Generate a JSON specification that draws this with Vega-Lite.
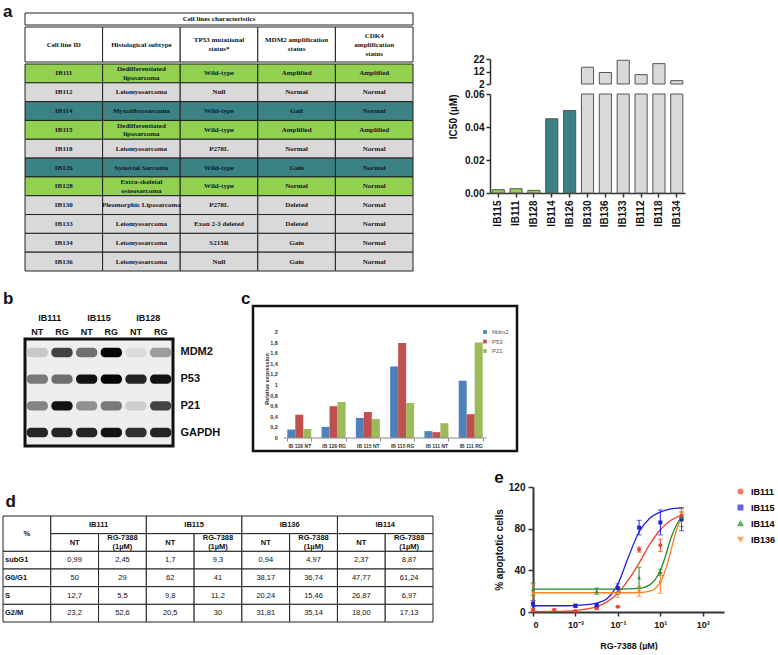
{
"$schema": "https://vega.github.io/schema/vega-lite/v6.json",
"background": "white",
"padding": {"left": 2, "top": 2, "right": 0, "bottom": 0},
"config": {
 "view": {"stroke": null},
 "font": "Liberation Sans",
 "axis": {"grid": false, "labelOverlap": false, "domainColor": "#333", "tickColor": "#333", "labelColor": "#111", "titleColor": "#111", "labelFont": "Liberation Sans", "titleFont": "Liberation Sans"},
 "title": {"anchor": "start", "fontSize": 17, "fontWeight": "bold", "font": "Liberation Sans", "color": "#111", "frame": "bounds"},
 "legend": {"labelFont": "Liberation Sans"}
},
"datasets": {
 "cells": [
  {"id":"IB111","hist":"Dedifferentiated\nliposarcoma","tp53":"Wild-type","mdm2":"Amplified","cdk4":"Amplified","grp":"sensitive"},
  {"id":"IB112","hist":"Leiomyosarcoma","tp53":"Null","mdm2":"Normal","cdk4":"Normal","grp":"resistant"},
  {"id":"IB114","hist":"Myxofibrosarcoma","tp53":"Wild-type","mdm2":"Gail","cdk4":"Normal","grp":"intermediate"},
  {"id":"IB115","hist":"Dedifferentiated\nliposarcoma","tp53":"Wild-type","mdm2":"Amplified","cdk4":"Amplified","grp":"sensitive"},
  {"id":"IB118","hist":"Leiomyosarcoma","tp53":"P278L","mdm2":"Normal","cdk4":"Normal","grp":"resistant"},
  {"id":"IB126","hist":"Synovial Sarcoma","tp53":"Wild-type","mdm2":"Gain","cdk4":"Normal","grp":"intermediate"},
  {"id":"IB128","hist":"Extra-skeletal\nosteosarcoma","tp53":"Wild-type","mdm2":"Normal","cdk4":"Normal","grp":"sensitive"},
  {"id":"IB130","hist":"Pleomorphic Liposarcoma","tp53":"P278L","mdm2":"Deleted","cdk4":"Normal","grp":"resistant"},
  {"id":"IB133","hist":"Leiomyosarcoma","tp53":"Exon 2-3 deleted","mdm2":"Deleted","cdk4":"Normal","grp":"resistant"},
  {"id":"IB134","hist":"Leiomyosarcoma","tp53":"S215R","mdm2":"Gain","cdk4":"Normal","grp":"resistant"},
  {"id":"IB136","hist":"Leiomyosarcoma","tp53":"Null","mdm2":"Gain","cdk4":"Normal","grp":"resistant"}
 ],
 "cellhead": [
  {"col":"id","label":"Cell line ID"},
  {"col":"hist","label":"Histological subtype"},
  {"col":"tp53","label":"TP53 mutational\nstatus*"},
  {"col":"mdm2","label":"MDM2 amplification\nstatus"},
  {"col":"cdk4","label":"CDK4\namplification\nstatus"}
 ],
 "ic50": [
  {"line":"IB115","ic50":0.002,"grp":"sensitive"},
  {"line":"IB111","ic50":0.0026,"grp":"sensitive"},
  {"line":"IB128","ic50":0.0016,"grp":"sensitive"},
  {"line":"IB114","ic50":0.045,"grp":"intermediate"},
  {"line":"IB126","ic50":0.05,"grp":"intermediate"},
  {"line":"IB130","ic50":15.4,"grp":"resistant"},
  {"line":"IB136","ic50":11.2,"grp":"resistant"},
  {"line":"IB133","ic50":21.0,"grp":"resistant"},
  {"line":"IB112","ic50":9.5,"grp":"resistant"},
  {"line":"IB118","ic50":18.3,"grp":"resistant"},
  {"line":"IB134","ic50":4.7,"grp":"resistant"}
 ],
 "blot": [
  {"cell":"IB111","lane":"IB111 NT","protein":"MDM2","signal":0.12},
  {"cell":"IB111","lane":"IB111 RG","protein":"MDM2","signal":0.7},
  {"cell":"IB115","lane":"IB115 NT","protein":"MDM2","signal":0.5},
  {"cell":"IB115","lane":"IB115 RG","protein":"MDM2","signal":1.0},
  {"cell":"IB128","lane":"IB128 NT","protein":"MDM2","signal":0.04},
  {"cell":"IB128","lane":"IB128 RG","protein":"MDM2","signal":0.3},
  {"cell":"IB111","lane":"IB111 NT","protein":"P53","signal":0.45},
  {"cell":"IB111","lane":"IB111 RG","protein":"P53","signal":0.5},
  {"cell":"IB115","lane":"IB115 NT","protein":"P53","signal":0.95},
  {"cell":"IB115","lane":"IB115 RG","protein":"P53","signal":1.0},
  {"cell":"IB128","lane":"IB128 NT","protein":"P53","signal":0.85},
  {"cell":"IB128","lane":"IB128 RG","protein":"P53","signal":0.95},
  {"cell":"IB111","lane":"IB111 NT","protein":"P21","signal":0.4},
  {"cell":"IB111","lane":"IB111 RG","protein":"P21","signal":0.95},
  {"cell":"IB115","lane":"IB115 NT","protein":"P21","signal":0.35},
  {"cell":"IB115","lane":"IB115 RG","protein":"P21","signal":0.45},
  {"cell":"IB128","lane":"IB128 NT","protein":"P21","signal":0.1},
  {"cell":"IB128","lane":"IB128 RG","protein":"P21","signal":0.7},
  {"cell":"IB111","lane":"IB111 NT","protein":"GAPDH","signal":0.85},
  {"cell":"IB111","lane":"IB111 RG","protein":"GAPDH","signal":0.85},
  {"cell":"IB115","lane":"IB115 NT","protein":"GAPDH","signal":0.85},
  {"cell":"IB115","lane":"IB115 RG","protein":"GAPDH","signal":0.95},
  {"cell":"IB128","lane":"IB128 NT","protein":"GAPDH","signal":0.8},
  {"cell":"IB128","lane":"IB128 RG","protein":"GAPDH","signal":0.85}
 ],
 "qpcr": [
  {"sample":"IB 128 NT","gene":"Mdm2","value":0.16},{"sample":"IB 128 NT","gene":"P53","value":0.44},{"sample":"IB 128 NT","gene":"P21","value":0.17},
  {"sample":"IB 128 RG","gene":"Mdm2","value":0.21},{"sample":"IB 128 RG","gene":"P53","value":0.6},{"sample":"IB 128 RG","gene":"P21","value":0.68},
  {"sample":"IB 115 NT","gene":"Mdm2","value":0.38},{"sample":"IB 115 NT","gene":"P53","value":0.49},{"sample":"IB 115 NT","gene":"P21","value":0.36},
  {"sample":"IB 115 RG","gene":"Mdm2","value":1.35},{"sample":"IB 115 RG","gene":"P53","value":1.79},{"sample":"IB 115 RG","gene":"P21","value":0.66},
  {"sample":"IB 111 NT","gene":"Mdm2","value":0.13},{"sample":"IB 111 NT","gene":"P53","value":0.11},{"sample":"IB 111 NT","gene":"P21","value":0.28},
  {"sample":"IB 111 RG","gene":"Mdm2","value":1.08},{"sample":"IB 111 RG","gene":"P53","value":0.45},{"sample":"IB 111 RG","gene":"P21","value":1.8}
 ],
 "qticks": [
  {"tick":0,"lab":"0"},{"tick":0.2,"lab":"0,2"},{"tick":0.4,"lab":"0,4"},{"tick":0.6,"lab":"0,6"},{"tick":0.8,"lab":"0,8"},{"tick":1,"lab":"1"},
  {"tick":1.2,"lab":"1,2"},{"tick":1.4,"lab":"1,4"},{"tick":1.6,"lab":"1,6"},{"tick":1.8,"lab":"1,8"},{"tick":2,"lab":"2"}
 ],
 "cyclehead": [
  {"c1":"phase","c2":"phase","r1":"h1","r2":"h2","label":"%","kind":"corner"},
  {"c1":"IB111 NT","c2":"IB111 RG","r1":"h1","r2":"h1","label":"IB111","kind":"group"},
  {"c1":"IB115 NT","c2":"IB115 RG","r1":"h1","r2":"h1","label":"IB115","kind":"group"},
  {"c1":"IB136 NT","c2":"IB136 RG","r1":"h1","r2":"h1","label":"IB136","kind":"group"},
  {"c1":"IB114 NT","c2":"IB114 RG","r1":"h1","r2":"h1","label":"IB114","kind":"group"},
  {"c1":"IB111 NT","c2":"IB111 NT","r1":"h2","r2":"h2","label":"NT","kind":"sub"},
  {"c1":"IB111 RG","c2":"IB111 RG","r1":"h2","r2":"h2","label":"RG-7388\n(1µM)","kind":"sub"},
  {"c1":"IB115 NT","c2":"IB115 NT","r1":"h2","r2":"h2","label":"NT","kind":"sub"},
  {"c1":"IB115 RG","c2":"IB115 RG","r1":"h2","r2":"h2","label":"RG-7388\n(1µM)","kind":"sub"},
  {"c1":"IB136 NT","c2":"IB136 NT","r1":"h2","r2":"h2","label":"NT","kind":"sub"},
  {"c1":"IB136 RG","c2":"IB136 RG","r1":"h2","r2":"h2","label":"RG-7388\n(1µM)","kind":"sub"},
  {"c1":"IB114 NT","c2":"IB114 NT","r1":"h2","r2":"h2","label":"NT","kind":"sub"},
  {"c1":"IB114 RG","c2":"IB114 RG","r1":"h2","r2":"h2","label":"RG-7388\n(1µM)","kind":"sub"}
 ],
 "cycle": [
  {"phase":"subG1","IB111 NT":"0,99","IB111 RG":"2,45","IB115 NT":"1,7","IB115 RG":"9,3","IB136 NT":"0,94","IB136 RG":"4,97","IB114 NT":"2,37","IB114 RG":"8,87"},
  {"phase":"G0/G1","IB111 NT":"50","IB111 RG":"29","IB115 NT":"62","IB115 RG":"41","IB136 NT":"38,17","IB136 RG":"36,74","IB114 NT":"47,77","IB114 RG":"61,24"},
  {"phase":"S","IB111 NT":"12,7","IB111 RG":"5,5","IB115 NT":"9,8","IB115 RG":"11,2","IB136 NT":"20,24","IB136 RG":"15,46","IB114 NT":"26,87","IB114 RG":"6,97"},
  {"phase":"G2/M","IB111 NT":"23,2","IB111 RG":"52,6","IB115 NT":"20,5","IB115 RG":"30","IB136 NT":"31,81","IB136 RG":"35,14","IB114 NT":"18,00","IB114 RG":"17,13"}
 ],
 "curves": [
  {"series":"IB115","logdose":-5,"pct":6},{"series":"IB115","logdose":-4,"pct":6},{"series":"IB115","logdose":-3,"pct":6.2},{"series":"IB115","logdose":-2.5,"pct":7},{"series":"IB115","logdose":-2,"pct":8.5},{"series":"IB115","logdose":-1.5,"pct":13},{"series":"IB115","logdose":-1,"pct":27},{"series":"IB115","logdose":-0.5,"pct":53},{"series":"IB115","logdose":0,"pct":77},{"series":"IB115","logdose":0.5,"pct":90},{"series":"IB115","logdose":1,"pct":96},{"series":"IB115","logdose":1.5,"pct":99},{"series":"IB115","logdose":2,"pct":100},
  {"series":"IB111","logdose":-5,"pct":0.3},{"series":"IB111","logdose":-4,"pct":0.5},{"series":"IB111","logdose":-3,"pct":1.4},{"series":"IB111","logdose":-2.5,"pct":2.8},{"series":"IB111","logdose":-2,"pct":5.2},{"series":"IB111","logdose":-1.5,"pct":10},{"series":"IB111","logdose":-1,"pct":18},{"series":"IB111","logdose":-0.5,"pct":31},{"series":"IB111","logdose":0,"pct":47},{"series":"IB111","logdose":0.5,"pct":65},{"series":"IB111","logdose":1,"pct":79},{"series":"IB111","logdose":1.5,"pct":88},{"series":"IB111","logdose":2,"pct":93},
  {"series":"IB114","logdose":-5,"pct":22},{"series":"IB114","logdose":-3,"pct":22},{"series":"IB114","logdose":-1,"pct":22},{"series":"IB114","logdose":0,"pct":22.7},{"series":"IB114","logdose":0.5,"pct":26},{"series":"IB114","logdose":1,"pct":40},{"series":"IB114","logdose":1.25,"pct":54},{"series":"IB114","logdose":1.5,"pct":71},{"series":"IB114","logdose":1.75,"pct":83},{"series":"IB114","logdose":2,"pct":91},
  {"series":"IB136","logdose":-5,"pct":18.5},{"series":"IB136","logdose":-3,"pct":18.5},{"series":"IB136","logdose":-1,"pct":18.5},{"series":"IB136","logdose":0,"pct":18.7},{"series":"IB136","logdose":0.5,"pct":20},{"series":"IB136","logdose":1,"pct":28.5},{"series":"IB136","logdose":1.25,"pct":41},{"series":"IB136","logdose":1.5,"pct":59},{"series":"IB136","logdose":1.75,"pct":78},{"series":"IB136","logdose":2,"pct":90}
 ],
 "apop": [
  {"series":"IB111","logdose":-5,"pct":2,"err":1},{"series":"IB111","logdose":-4,"pct":2,"err":1},{"series":"IB111","logdose":-3,"pct":1,"err":0.5},{"series":"IB111","logdose":-2,"pct":3.5,"err":1},{"series":"IB111","logdose":-1,"pct":5,"err":0.5},{"series":"IB111","logdose":0,"pct":60,"err":2.5},{"series":"IB111","logdose":1,"pct":64,"err":6},{"series":"IB111","logdose":2,"pct":93,"err":3},
  {"series":"IB115","logdose":-5,"pct":8,"err":3},{"series":"IB115","logdose":-3,"pct":6,"err":1.5},{"series":"IB115","logdose":-2,"pct":6.5,"err":1.5},{"series":"IB115","logdose":-1,"pct":23,"err":4},{"series":"IB115","logdose":0,"pct":81,"err":7},{"series":"IB115","logdose":1,"pct":86,"err":12},{"series":"IB115","logdose":2,"pct":89,"err":11},
  {"series":"IB114","logdose":-5,"pct":22,"err":6},{"series":"IB114","logdose":-2,"pct":20,"err":3},{"series":"IB114","logdose":-1,"pct":20,"err":3},{"series":"IB114","logdose":0,"pct":33,"err":10},{"series":"IB114","logdose":1,"pct":38,"err":3},{"series":"IB114","logdose":2,"pct":91,"err":9},
  {"series":"IB136","logdose":-5,"pct":18,"err":9},{"series":"IB136","logdose":-1,"pct":18,"err":4},{"series":"IB136","logdose":0,"pct":20,"err":5},{"series":"IB136","logdose":1,"pct":28,"err":10},{"series":"IB136","logdose":2,"pct":95,"err":4}
 ]
},
"columns": 1,
"spacing": 16,
"resolve": {"legend": {"color": "independent", "shape": "independent", "fill": "independent"}},
"concat": [
 {
  "spacing": 34,
  "hconcat": [
   {
    "title": {"text": "a", "offset": -8},
    "spacing": 20,
    "hconcat": [
     {"width": 1, "height": 1, "data": {"values": []}, "mark": "rect"},
     {
      "spacing": 0,
      "vconcat": [
       {
        "width": 388, "height": 12,
        "data": {"values": [{"caption": "Cell lines characteristics"}]},
        "layer": [
         {"mark": {"type": "rect", "fill": "white", "stroke": "#222", "strokeWidth": 1}, "encoding": {}},
         {"mark": {"type": "text", "font": "Liberation Serif", "fontWeight": "bold", "fontSize": 7, "color": "#111"}, "encoding": {"text": {"field": "caption"}}}
        ]
       },
       {
        "width": 388, "height": 35,
        "data": {"name": "cellhead"},
        "encoding": {"x": {"field": "col", "type": "nominal", "sort": null, "scale": {"domain": ["id","hist","tp53","mdm2","cdk4"], "paddingInner": 0, "paddingOuter": 0}, "axis": null}},
        "layer": [
         {"mark": {"type": "rect", "fill": "white", "stroke": "#222", "strokeWidth": 1}},
         {"transform": [{"filter": "length(split(datum.label, '\\n')) == 1"}], "mark": {"type": "text", "font": "Liberation Serif", "fontWeight": "bold", "fontSize": 7, "color": "#111"}, "encoding": {"text": {"field": "label"}}},
         {"transform": [{"filter": "length(split(datum.label, '\\n')) == 2"}], "mark": {"type": "text", "font": "Liberation Serif", "fontWeight": "bold", "fontSize": 7, "lineBreak": "\n", "lineHeight": 9, "dy": -4.5, "color": "#111"}, "encoding": {"text": {"field": "label"}}},
         {"transform": [{"filter": "length(split(datum.label, '\\n')) == 3"}], "mark": {"type": "text", "font": "Liberation Serif", "fontWeight": "bold", "fontSize": 7, "lineBreak": "\n", "lineHeight": 9, "dy": -9, "color": "#111"}, "encoding": {"text": {"field": "label"}}}
        ]
       },
       {
        "width": 388, "height": 207,
        "data": {"name": "cells"},
        "transform": [{"fold": ["id","hist","tp53","mdm2","cdk4"], "as": ["col","txt"]}],
        "encoding": {
         "x": {"field": "col", "type": "nominal", "sort": null, "scale": {"domain": ["id","hist","tp53","mdm2","cdk4"], "paddingInner": 0, "paddingOuter": 0}, "axis": null},
         "y": {"field": "id", "type": "nominal", "sort": null, "scale": {"paddingInner": 0, "paddingOuter": 0}, "axis": null}
        },
        "layer": [
         {"mark": {"type": "rect", "stroke": "#222", "strokeWidth": 1}, "encoding": {"fill": {"field": "grp", "type": "nominal", "scale": {"domain": ["sensitive","intermediate","resistant"], "range": ["#92d050","#3a8283","#d9d9d9"]}, "legend": null}}},
         {"transform": [{"filter": "indexof(datum.txt, '\\n') < 0"}], "mark": {"type": "text", "font": "Liberation Serif", "fontWeight": "bold", "fontSize": 7, "color": "#15152a"}, "encoding": {"text": {"field": "txt"}}},
         {"transform": [{"filter": "indexof(datum.txt, '\\n') >= 0"}], "mark": {"type": "text", "font": "Liberation Serif", "fontWeight": "bold", "fontSize": 7, "lineBreak": "\n", "lineHeight": 8.5, "dy": -4.2, "color": "#15152a"}, "encoding": {"text": {"field": "txt"}}}
        ]
       }
      ]
     }
    ]
   },
   {
    "bounds": "flush",
    "spacing": 10,
    "vconcat": [
     {"width": 195, "height": 36, "data": {"values": []}, "mark": "rect"},
     {
      "width": 195, "height": 25,
      "data": {"name": "ic50"},
      "transform": [{"filter": "datum.ic50 >= 2"}],
      "mark": {"type": "bar", "stroke": "#555", "strokeWidth": 1},
      "encoding": {
       "x": {"field": "line", "type": "nominal", "sort": null, "scale": {"domain": ["IB115","IB111","IB128","IB114","IB126","IB130","IB136","IB133","IB112","IB118","IB134"], "paddingInner": 0.32, "paddingOuter": 0.12}, "axis": null},
       "y": {"field": "ic50", "type": "quantitative", "scale": {"domain": [2, 22], "nice": false, "zero": false}, "axis": {"values": [2, 12, 22], "title": null, "labelFontSize": 10, "labelFontWeight": "bold", "domainWidth": 1.5, "tickWidth": 1.5, "tickSize": 4, "labelPadding": 2}},
       "y2": {"datum": 2},
       "fill": {"field": "grp", "type": "nominal", "scale": {"domain": ["sensitive","intermediate","resistant"], "range": ["#92d050","#357f7e","#d9d9d9"]}, "legend": null}
      }
     },
     {
      "width": 195, "height": 99,
      "data": {"name": "ic50"},
      "mark": {"type": "bar", "stroke": "#555", "strokeWidth": 1},
      "encoding": {
       "x": {"field": "line", "type": "nominal", "sort": null, "scale": {"domain": ["IB115","IB111","IB128","IB114","IB126","IB130","IB136","IB133","IB112","IB118","IB134"], "paddingInner": 0.32, "paddingOuter": 0.12}, "axis": {"title": null, "labelAngle": -90, "labelFontSize": 10, "labelFontWeight": "bold", "domainWidth": 1.5, "tickWidth": 1.5, "tickSize": 4, "labelPadding": 3}},
       "y": {"field": "ic50", "type": "quantitative", "scale": {"domain": [0, 0.06], "clamp": true, "nice": false}, "axis": {"values": [0, 0.02, 0.04, 0.06], "format": ".2f", "title": "IC50 (µM)", "titleFontSize": 10, "titleFontWeight": "bold", "titleAnchor": "end", "titlePadding": 6, "labelFontSize": 10, "labelFontWeight": "bold", "domainWidth": 1.5, "tickWidth": 1.5, "tickSize": 4, "labelPadding": 2}},
       "fill": {"field": "grp", "type": "nominal", "scale": {"domain": ["sensitive","intermediate","resistant"], "range": ["#92d050","#357f7e","#d9d9d9"]}, "legend": null}
      }
     }
    ]
   }
  ]
 },
 {
  "spacing": 17,
  "hconcat": [
   {
    "title": {"text": "b", "offset": -2},
    "spacing": 19,
    "hconcat": [
     {"width": 1, "height": 1, "data": {"values": []}, "mark": "rect"},
     {
      "spacing": 4,
      "vconcat": [
       {"width": 148, "height": 1, "data": {"values": []}, "mark": "rect"},
       {
        "width": 148, "height": 107,
        "view": {"fill": "#eeeeee", "stroke": "#111", "strokeWidth": 3},
        "data": {"name": "blot"},
        "layer": [
         {
          "mark": {"type": "rect", "cornerRadius": 4},
          "encoding": {
           "x": {"field": "lane", "type": "nominal", "sort": null, "scale": {"domain": ["IB111 NT","IB111 RG","IB115 NT","IB115 RG","IB128 NT","IB128 RG"], "paddingInner": 0.14, "paddingOuter": 0.07}, "axis": {"orient": "top", "title": null, "domain": false, "ticks": false, "labelExpr": "split(datum.label, ' ')[1]", "labelAngle": 0, "labelFontSize": 9, "labelFontWeight": "bold", "labelPadding": 3}},
           "y": {"field": "protein", "type": "nominal", "sort": null, "scale": {"domain": ["MDM2","P53","P21","GAPDH"], "paddingInner": 0.65, "paddingOuter": 0.33}, "axis": {"orient": "right", "title": null, "domain": false, "ticks": false, "labelFontSize": 11, "labelFontWeight": "bold", "labelPadding": 7}},
           "color": {"field": "signal", "type": "quantitative", "scale": {"domain": [0, 1], "range": ["#e6e6e6", "#050505"]}, "legend": null}
          }
         },
         {
          "mark": {"type": "tick", "opacity": 0},
          "encoding": {
           "x": {"field": "cell", "type": "nominal", "scale": {"domain": ["IB111","IB115","IB128"]}, "axis": {"orient": "top", "offset": 14, "title": null, "domain": false, "ticks": false, "labelAngle": 0, "labelFontSize": 9, "labelFontWeight": "bold", "labelPadding": 3}}
          }
         }
        ],
        "resolve": {"scale": {"x": "independent"}, "axis": {"x": "independent"}}
       }
      ]
     }
    ]
   },
   {
    "title": {"text": "c", "dx": -12, "offset": -2},
    "width": 264, "height": 145,
    "view": {"fill": "white", "stroke": "#111", "strokeWidth": 2.5},
    "layer": [
     {
      "data": {"name": "qpcr"},
      "mark": {"type": "bar"},
      "encoding": {
       "x": {"field": "sample", "type": "nominal", "sort": null, "scale": {"domain": ["IB 128 NT","IB 128 RG","IB 115 NT","IB 115 RG","IB 111 NT","IB 111 RG"], "paddingInner": 0.3, "paddingOuter": 1.25}, "axis": {"orient": "bottom", "offset": -13, "domain": false, "tickBand": "extent", "tickSize": 3, "tickColor": "#888", "labelFontSize": 5, "labelFontWeight": "bold", "labelColor": "#333", "labelPadding": 2, "labelAngle": 0, "title": null}},
       "xOffset": {"field": "gene", "type": "nominal", "sort": null, "scale": {"domain": ["Mdm2","P53","P21"]}},
       "y": {"field": "value", "type": "quantitative", "scale": {"domain": [-0.245, 2.49], "nice": false, "zero": false}, "axis": {"offset": -33, "labels": false, "domain": false, "ticks": false, "title": "Relative expression", "titleFontSize": 5.5, "titleFontWeight": "bold", "titleColor": "#333", "titlePadding": 17}},
       "y2": {"datum": 0},
       "color": {"field": "gene", "type": "nominal", "scale": {"domain": ["Mdm2","P53","P21"], "range": ["#4f81bd","#c0504d","#9bbb59"]}, "legend": {"orient": "none", "legendX": 229, "legendY": 23, "title": null, "symbolType": "square", "symbolSize": 14, "labelFontSize": 6, "labelColor": "#555", "rowPadding": 3.5, "padding": 0}}
      }
     },
     {
      "data": {"name": "qticks"},
      "mark": {"type": "text", "align": "right", "baseline": "middle", "dx": -9.5, "fontSize": 5.5, "fontWeight": "bold", "color": "#333"},
      "encoding": {
       "x": {"datum": "IB 128 NT", "bandPosition": 0},
       "y": {"field": "tick", "type": "quantitative"},
       "text": {"field": "lab"}
      }
     },
     {
      "data": {"values": [{}]},
      "mark": {"type": "rule", "color": "#888", "strokeWidth": 1},
      "encoding": {
       "x": {"datum": "IB 128 NT", "bandPosition": -0.15},
       "x2": {"datum": "IB 111 RG", "bandPosition": 1.15},
       "y": {"datum": 0}
      }
     }
    ]
   }
  ]
 },
 {
  "spacing": 60,
  "resolve": {"legend": {"color": "independent", "shape": "independent"}},
  "hconcat": [
   {
    "spacing": 4,
    "vconcat": [
     {"width": 430, "height": 1, "data": {"values": []}, "mark": "rect"},
     {
      "title": {"text": "d", "dx": 3, "offset": 5},
      "width": 430, "height": 106,
      "layer": [
       {
        "data": {"name": "cyclehead"},
        "mark": {"type": "rect", "fill": "white", "stroke": "#222", "strokeWidth": 1},
        "encoding": {
         "x": {"field": "c1", "type": "nominal", "bandPosition": 0, "scale": {"domain": ["phase","IB111 NT","IB111 RG","IB115 NT","IB115 RG","IB136 NT","IB136 RG","IB114 NT","IB114 RG"], "paddingInner": 0, "paddingOuter": 0}, "axis": null},
         "x2": {"field": "c2", "bandPosition": 1},
         "y": {"field": "r1", "type": "nominal", "bandPosition": 0, "scale": {"domain": ["h1","h2","subG1","G0/G1","S","G2/M"], "paddingInner": 0, "paddingOuter": 0}, "axis": null},
         "y2": {"field": "r2", "bandPosition": 1}
        }
       },
       {
        "data": {"name": "cyclehead"},
        "transform": [{"filter": "datum.kind == 'group'"}],
        "mark": {"type": "text", "fontSize": 7.5, "fontWeight": "bold", "color": "#111"},
        "encoding": {
         "x": {"field": "c2", "type": "nominal", "bandPosition": 0, "scale": {"domain": ["phase","IB111 NT","IB111 RG","IB115 NT","IB115 RG","IB136 NT","IB136 RG","IB114 NT","IB114 RG"], "paddingInner": 0, "paddingOuter": 0}, "axis": null},
         "y": {"field": "r1", "type": "nominal", "scale": {"domain": ["h1","h2","subG1","G0/G1","S","G2/M"], "paddingInner": 0, "paddingOuter": 0}, "axis": null},
         "text": {"field": "label"}
        }
       },
       {
        "data": {"name": "cyclehead"},
        "transform": [{"filter": "datum.kind == 'corner'"}],
        "mark": {"type": "text", "fontSize": 7.5, "fontWeight": "bold", "color": "#111"},
        "encoding": {
         "x": {"field": "c1", "type": "nominal", "scale": {"domain": ["phase","IB111 NT","IB111 RG","IB115 NT","IB115 RG","IB136 NT","IB136 RG","IB114 NT","IB114 RG"], "paddingInner": 0, "paddingOuter": 0}, "axis": null},
         "y": {"field": "r2", "type": "nominal", "bandPosition": 0, "scale": {"domain": ["h1","h2","subG1","G0/G1","S","G2/M"], "paddingInner": 0, "paddingOuter": 0}, "axis": null},
         "text": {"field": "label"}
        }
       },
       {
        "data": {"name": "cyclehead"},
        "transform": [{"filter": "datum.kind == 'sub' && indexof(datum.label, '\\n') < 0"}],
        "mark": {"type": "text", "fontSize": 7.5, "fontWeight": "bold", "color": "#111"},
        "encoding": {
         "x": {"field": "c1", "type": "nominal", "scale": {"domain": ["phase","IB111 NT","IB111 RG","IB115 NT","IB115 RG","IB136 NT","IB136 RG","IB114 NT","IB114 RG"], "paddingInner": 0, "paddingOuter": 0}, "axis": null},
         "y": {"field": "r1", "type": "nominal", "scale": {"domain": ["h1","h2","subG1","G0/G1","S","G2/M"], "paddingInner": 0, "paddingOuter": 0}, "axis": null},
         "text": {"field": "label"}
        }
       },
       {
        "data": {"name": "cyclehead"},
        "transform": [{"filter": "datum.kind == 'sub' && indexof(datum.label, '\\n') >= 0"}],
        "mark": {"type": "text", "fontSize": 7.5, "fontWeight": "bold", "color": "#111", "lineBreak": "\n", "lineHeight": 9, "dy": -4.5},
        "encoding": {
         "x": {"field": "c1", "type": "nominal", "scale": {"domain": ["phase","IB111 NT","IB111 RG","IB115 NT","IB115 RG","IB136 NT","IB136 RG","IB114 NT","IB114 RG"], "paddingInner": 0, "paddingOuter": 0}, "axis": null},
         "y": {"field": "r1", "type": "nominal", "scale": {"domain": ["h1","h2","subG1","G0/G1","S","G2/M"], "paddingInner": 0, "paddingOuter": 0}, "axis": null},
         "text": {"field": "label"}
        }
       },
       {
        "data": {"name": "cycle"},
        "transform": [{"fold": ["phase","IB111 NT","IB111 RG","IB115 NT","IB115 RG","IB136 NT","IB136 RG","IB114 NT","IB114 RG"], "as": ["col","val"]}],
        "mark": {"type": "rect", "fill": "white", "stroke": "#222", "strokeWidth": 1},
        "encoding": {
         "x": {"field": "col", "type": "nominal", "scale": {"domain": ["phase","IB111 NT","IB111 RG","IB115 NT","IB115 RG","IB136 NT","IB136 RG","IB114 NT","IB114 RG"], "paddingInner": 0, "paddingOuter": 0}, "axis": null},
         "y": {"field": "phase", "type": "nominal", "scale": {"domain": ["h1","h2","subG1","G0/G1","S","G2/M"], "paddingInner": 0, "paddingOuter": 0}, "axis": null}
        }
       },
       {
        "data": {"name": "cycle"},
        "transform": [{"fold": ["IB111 NT","IB111 RG","IB115 NT","IB115 RG","IB136 NT","IB136 RG","IB114 NT","IB114 RG"], "as": ["col","val"]}],
        "mark": {"type": "text", "fontSize": 7.5, "color": "#111"},
        "encoding": {
         "x": {"field": "col", "type": "nominal", "scale": {"domain": ["phase","IB111 NT","IB111 RG","IB115 NT","IB115 RG","IB136 NT","IB136 RG","IB114 NT","IB114 RG"], "paddingInner": 0, "paddingOuter": 0}, "axis": null},
         "y": {"field": "phase", "type": "nominal", "scale": {"domain": ["h1","h2","subG1","G0/G1","S","G2/M"], "paddingInner": 0, "paddingOuter": 0}, "axis": null},
         "text": {"field": "val"}
        }
       },
       {
        "data": {"name": "cycle"},
        "mark": {"type": "text", "fontSize": 7.5, "fontWeight": "bold", "color": "#111", "align": "left", "dx": 2},
        "encoding": {
         "x": {"datum": "phase", "bandPosition": 0, "scale": {"domain": ["phase","IB111 NT","IB111 RG","IB115 NT","IB115 RG","IB136 NT","IB136 RG","IB114 NT","IB114 RG"], "paddingInner": 0, "paddingOuter": 0}, "axis": null},
         "y": {"field": "phase", "type": "nominal", "scale": {"domain": ["h1","h2","subG1","G0/G1","S","G2/M"], "paddingInner": 0, "paddingOuter": 0}, "axis": null},
         "text": {"field": "phase"}
        }
       }
      ]
     }
    ]
   },
   {
    "title": {"text": "e", "offset": -5},
    "width": 191, "height": 125,
    "encoding": {
     "x": {"field": "logdose", "type": "quantitative", "scale": {"domain": [-5, 4], "nice": false}, "axis": {"values": [-5, -3, -1, 1, 3], "labelExpr": "datum.value == -5 ? '0' : datum.value == -3 ? '10⁻³' : datum.value == -1 ? '10⁻¹' : datum.value == 1 ? '10¹' : '10³'", "title": "RG-7388 (µM)", "titleFontSize": 9, "titleFontWeight": "bold", "titlePadding": 12, "labelFontSize": 9, "labelFontWeight": "bold", "domainWidth": 2, "tickWidth": 1.5, "tickSize": 4, "labelPadding": 4}},
     "y": {"field": "pct", "type": "quantitative", "scale": {"domain": [0, 120], "nice": false}, "axis": {"values": [0, 40, 80, 120], "title": "% apoptotic cells", "titleFontSize": 10, "titleFontWeight": "bold", "titlePadding": 4, "labelFontSize": 10, "labelFontWeight": "bold", "domainWidth": 2, "tickWidth": 1.5, "tickSize": 5, "labelPadding": 3}},
     "color": {"field": "series", "type": "nominal", "scale": {"domain": ["IB111","IB115","IB114","IB136"], "range": ["#f2402b","#1f1fe0","#1f8a2b","#ff7f1e"]}, "legend": {"title": null, "orient": "right", "offset": 12, "labelFontSize": 9, "labelFontWeight": "bold", "symbolSize": 20, "rowPadding": 5, "labelOffset": 6}}
    },
    "layer": [
     {"data": {"name": "curves"}, "mark": {"type": "line", "interpolate": "monotone", "strokeWidth": 1.3}},
     {"data": {"name": "apop"}, "mark": {"type": "errorbar", "ticks": true, "thickness": 1}, "encoding": {"yError": {"field": "err"}}},
     {"data": {"name": "apop"}, "mark": {"type": "point", "filled": true, "size": 16, "opacity": 1}, "encoding": {"shape": {"field": "series", "type": "nominal", "scale": {"domain": ["IB111","IB115","IB114","IB136"], "range": ["circle","square","triangle-up","triangle-down"]}, "legend": {"title": null, "orient": "right", "offset": 12, "labelFontSize": 9, "labelFontWeight": "bold", "symbolSize": 20, "rowPadding": 5, "labelOffset": 6}}}}
    ]
   }
  ]
 }
]
}
